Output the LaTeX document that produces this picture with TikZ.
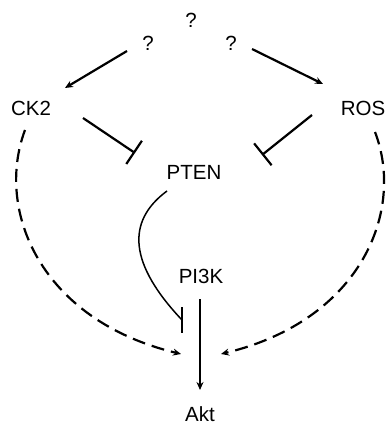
\documentclass[tikz,border=0pt]{standalone}
\usepackage{fontspec}
\setmainfont{Liberation Sans}
\usetikzlibrary{arrows.meta}
\begin{document}
\begin{tikzpicture}[x=1pt,y=-1pt,
  lbl/.style={font=\fontsize{20.5}{24}\selectfont, inner sep=0pt},
  act/.style={line width=2.2pt,-{Stealth[length=8pt,width=7pt]}},
  inh/.style={line width=2.2pt,-{Bar[width=28pt,line width=2.2pt]}},
  dsh/.style={line width=2.2pt,dash pattern=on 13pt off 7pt,-{Stealth[length=8pt,width=7pt]}},
  thin/.style={line width=1.5pt}]
\useasboundingbox (0,0) rectangle (389,427);
% labels
\node[lbl] (q1) at (191,20) {?};
\node[lbl] (q2) at (148,43) {?};
\node[lbl] (q3) at (231,43) {?};
\node[lbl] (ck2) at (31,108) {CK2};
\node[lbl] (ros) at (363,108) {ROS};
\node[lbl] (pten) at (194,172) {PTEN};
\node[lbl] (pi3k) at (201,276) {PI3K};
\node[lbl] (akt) at (200,414) {Akt};
% connector endpoints
\coordinate (a1s) at (127,51);
\coordinate (a1e) at (65,88);
\coordinate (a2s) at (252,49);
\coordinate (a2e) at (323,84);
\coordinate (i1s) at (83,118);
\coordinate (i1e) at (135,153);
\coordinate (i2s) at (312,115);
\coordinate (i2e) at (262,155);
\coordinate (cs) at (167,191);
\coordinate (ce) at (182,320);
\coordinate (ps) at (200,299);
\coordinate (pe) at (200,390);
\coordinate (ls) at (25,130);
\coordinate (le) at (181,354);
\coordinate (rs) at (375,132);
\coordinate (re) at (221,354);
% arrows
\draw[act] (a1s) -- (a1e);
\draw[act] (a2s) -- (a2e);
\draw[inh] (i1s) -- (i1e);
\draw[inh] (i2s) -- (i2e);
\draw[thin] (cs) .. controls (125,222) and (130,265) .. (ce);
\draw[line width=2.2pt] (ce) ++(0,-13) -- ++(0,26);
\draw[act] (ps) -- (pe);
\draw[dsh] (ls) .. controls (-5,210) and (40,320) .. (le);
\draw[dsh] (rs) .. controls (405,210) and (362,320) .. (re);
\end{tikzpicture}
\end{document}
